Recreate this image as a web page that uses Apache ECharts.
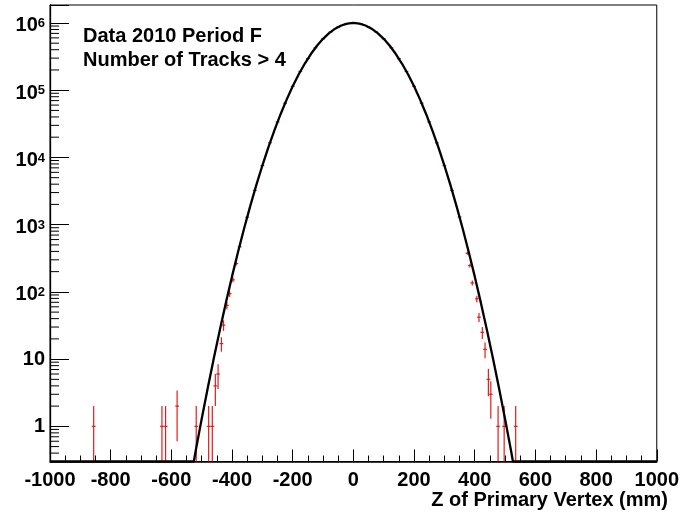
<!DOCTYPE html>
<html><head><meta charset="utf-8">
<script src="https://cdn.jsdelivr.net/npm/echarts@6/dist/echarts.min.js"></script>
<style>html,body{margin:0;padding:0;background:#fff}#c{width:682px;height:519px}</style>
</head><body><div id="c"></div>
<script>
// ---- data ----
const xMin = -1000, xMax = 1000, xStep = 200;
const yMin = 0.3, yMax = 1.85e6;
const binHalfWidth = 6.25; // mm

// measured histogram (red points)
const dataZ = [-856,-631,-619,-581,-518,-477,-465,-455,-446,-435,-428,-417,-408,-397,-386,
  -375,-350,-325,-300,-275,-250,-225,-200,-175,-150,-125,-100,-75,-50,-25,0,
  25,50,75,100,125,150,175,200,225,250,275,300,325,350,
  376,384,392,407,414,425,434,445,453,477,497,535];
const dataN = [1,1,1,2,1,1,1,4,6,17,32,63,94,151,264,
  470,1290,3230,7560,16500,33700,64100,114000,190000,295000,428000,581000,737000,873000,967000,1000000,
  967000,873000,737000,581000,428000,295000,190000,114000,64100,33700,16500,7570,3240,1300,
  376,246,136,79,42,25,14,5,3,1,1,1];
const dataErr = [1,1,1,1.4,1,1,1,2,2.4,4.1,5.7,7.9,9.7,12.3,16.2,
  22,36,57,87,128,184,253,338,436,543,654,762,858,934,983,1000,
  983,934,858,762,654,543,436,338,253,184,128,87,57,36,
  19.4,15.7,11.7,8.9,6.5,5,3.7,2.2,1.7,1,1,1];

// fitted curve (black), clipped at the frame bottom as drawn
const fitZ = [-1000,-526,-520,-500,-480,-460,-440,-420,-400,-380,-360,-340,-320,-300,-280,-260,-240,-220,-200,-180,-160,-140,-120,-100,-80,-60,-40,-20,0,
  20,40,60,80,100,120,140,160,180,200,220,240,260,280,300,320,340,360,380,400,420,440,460,480,500,520,526,1000];
const fitN = [0.3,0.3,0.426,1.29,3.73,10.3,27.4,69.8,170,396,884,1889,3866,7578,14220,25540,43940,72370,114170,172440,249350,345280,457830,581260,706700,822590,916850,978530,1000000,
  978530,916850,822590,706700,581260,457830,345280,249350,172440,114170,72370,43940,25540,14220,7578,3866,1889,884,396,170,69.8,27.4,10.3,3.73,1.29,0.426,0.3,0.3];

const legendLines = ['Data 2010 Period F', 'Number of Tracks > 4'];
const xTitle = 'Z of Primary Vertex (mm)';

// ---- chart ----
const FONT = 'Liberation Sans, Arial, Helvetica, sans-serif';
const RED = '#e31b1b';
const yMinorTicks = [];
for (let d = -1; d <= 6; d++) for (let m = 2; m <= 9; m++) {
  const v = m * Math.pow(10, d);
  if (v >= yMin && v <= yMax) yMinorTicks.push(v);
}

const chart = echarts.init(document.getElementById('c'), null, {renderer: 'canvas'});
chart.setOption({
  animation: false,
  backgroundColor: '#fff',
  textStyle: {fontFamily: FONT},
  grid: {left: 50, top: 5, width: 608, height: 456.5, show: true, borderColor: '#000', borderWidth: 1, backgroundColor: 'transparent'},
  xAxis: {
    type: 'value', min: xMin, max: xMax, interval: xStep,
    axisLine: {onZero: false, lineStyle: {color: '#000', width: 1.6}},
    axisTick: {inside: true, length: 12, lineStyle: {color: '#000', width: 1}},
    minorTick: {show: true, splitNumber: 4, length: 6, lineStyle: {color: '#000', width: 1}},
    splitLine: {show: false},
    axisLabel: {fontFamily: FONT, fontWeight: 'bold', fontSize: 20, color: '#000', margin: 9,
      showMinLabel: true, showMaxLabel: true, formatter: v => String(v)}
  },
  yAxis: {
    type: 'log', logBase: 10, min: yMin, max: yMax,
    axisLine: {onZero: false, lineStyle: {color: '#000', width: 1.3}},
    axisTick: {inside: true, length: 19, lineStyle: {color: '#000', width: 1}},
    splitLine: {show: false},
    axisLabel: {
      margin: 5, color: '#000',
      formatter: function (v) {
        const e = Math.log10(v);
        const r = Math.round(e);
        if (Math.abs(e - r) > 1e-6) return '';
        if (r === 0) return '{p|1}';
        if (r === 1) return '{p|10}';
        return '{b|10}{s|' + r + '}';
      },
      rich: {
        p: {fontFamily: FONT, fontWeight: 'bold', fontSize: 20, color: '#000'},
        b: {fontFamily: FONT, fontWeight: 'bold', fontSize: 20, lineHeight: 20, padding: [6, 0, 0, 0], color: '#000'},
        s: {fontFamily: FONT, fontWeight: 'bold', fontSize: 13, lineHeight: 13, padding: [4, 0, 0, 0], verticalAlign: 'top', color: '#000'}
      }
    }
  },
  graphic: [
    {type: 'text', left: 83, top: 24, style: {text: legendLines.join('\n'), font: 'bold 20px ' + FONT, fill: '#000', lineHeight: 24.4}},
    {type: 'text', right: 14, top: 490, style: {text: xTitle, font: 'bold 20px ' + FONT, fill: '#000'}}
  ],
  series: [
    {
      type: 'custom', silent: true, z: 5,
      data: yMinorTicks.map(v => [xMin, v]),
      encode: {x: 0, y: 1},
      renderItem: function (params, api) {
        const p = api.coord([api.value(0), api.value(1)]);
        return {type: 'line', shape: {x1: p[0], y1: p[1], x2: p[0] + 9, y2: p[1]}, style: {stroke: '#000', lineWidth: 1}};
      }
    },
    {
      type: 'custom', silent: true, z: 2,
      data: dataZ.map((z, i) => [z, dataN[i], dataErr[i]]),
      encode: {x: 0, y: 1},
      renderItem: function (params, api) {
        const z = api.value(0), n = api.value(1), e = api.value(2);
        const lo = Math.max(n - e, yMin), hi = Math.min(n + e, yMax);
        const a = api.coord([z, lo]), b = api.coord([z, hi]);
        const l = api.coord([z - binHalfWidth, n]), r = api.coord([z + binHalfWidth, n]);
        return {type: 'group', children: [
          {type: 'line', shape: {x1: a[0], y1: a[1], x2: b[0], y2: b[1]}, style: {stroke: RED, lineWidth: 1.2}},
          {type: 'line', shape: {x1: l[0], y1: l[1], x2: r[0], y2: r[1]}, style: {stroke: RED, lineWidth: 1.2}}
        ]};
      }
    },
    {
      type: 'line', z: 3, showSymbol: false, silent: true, clip: false,
      data: fitZ.map((z, i) => [z, fitN[i]]),
      lineStyle: {color: '#000', width: 2.3},
      itemStyle: {color: '#000'}
    }
  ]
});
</script>
</body></html>
